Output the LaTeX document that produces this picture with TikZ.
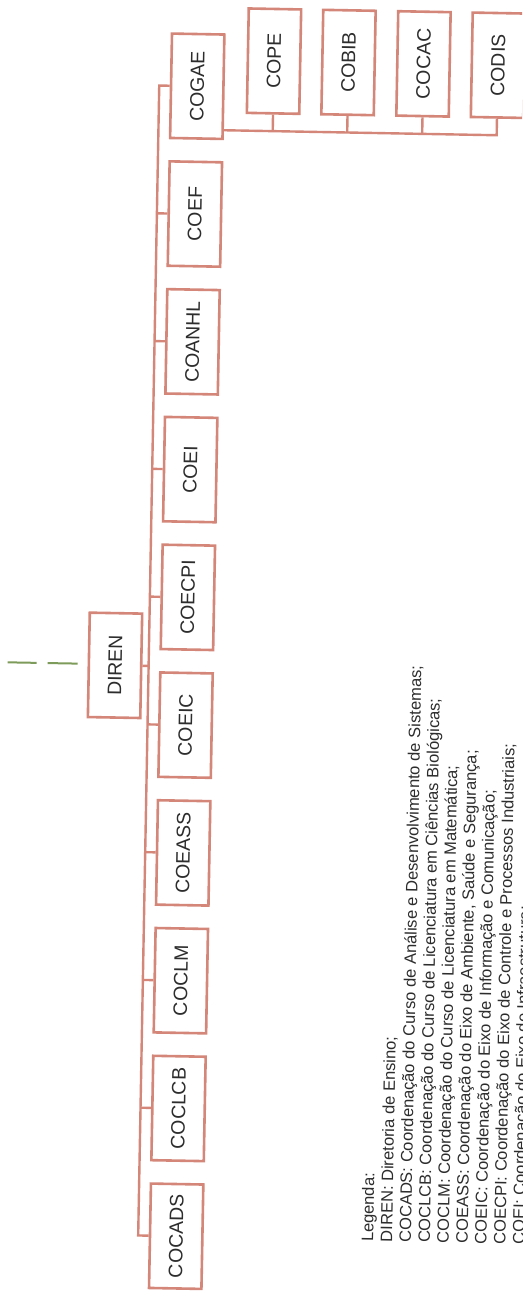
\documentclass[tikz,border=0pt]{standalone}
\usepackage{fontspec}
\setmainfont{Liberation Sans}
\definecolor{boxc}{RGB}{212,135,120}
\definecolor{txtc}{RGB}{45,45,45}
\definecolor{dashc}{RGB}{125,155,90}
\begin{document}
\begin{tikzpicture}[x=1pt,y=-1pt,
  unit/.style={draw=boxc, line width=2.6pt, fill=white, rotate=90, transform shape,
    minimum width=104.4pt, minimum height=52.4pt, inner sep=0pt, text=txtc,
    font=\fontsize{19.5}{23}\selectfont},
  conn/.style={draw=boxc, line width=2.4pt, line join=miter},
  legend/.style={rotate=90, transform shape, anchor=base west, inner sep=0pt,
    text=txtc, font=\fontsize{16.5}{18.9}\selectfont},
  dashline/.style={draw=dashc, line width=2pt}]
\useasboundingbox (0,0) rectangle (522,1292);
\fill[white] (0,0) rectangle (522,1292);
\clip (0,0) rectangle (522,1292);
\begin{scope}[rotate around={-1.05:(261,646)}]
% main column
\node[unit] (COGAE)  at (187,87.5)   {COGAE};
\node[unit] (COEF)   at (187,215.3)  {COEF};
\node[unit] (COANHL) at (187,343.1)  {COANHL};
\node[unit] (COEI)   at (187,470.9)  {COEI};
\node[unit] (COECPI) at (187,598.7)  {COECPI};
\node[unit] (COEIC)  at (187,726.5)  {COEIC};
\node[unit] (COEASS) at (187,854.3)  {COEASS};
\node[unit] (COCLM)  at (187,982.1)  {COCLM};
\node[unit] (COCLCB) at (187,1109.9) {COCLCB};
\node[unit] (COCADS) at (187,1237.7) {COCADS};
% director
\node[unit] (DIREN)  at (115.4,668)  {DIREN};
% sub units of COGAE
\node[unit] (COPE)   at (263.3,61) {COPE};
\node[unit] (COBIB)  at (337.8,61) {COBIB};
\node[unit] (COCAC)  at (412.8,61) {COCAC};
\node[unit] (CODIS)  at (487.3,61) {CODIS};
% trunk
\coordinate (tTop) at (149,87.5);
\coordinate (tBot) at (149,1237.7);
\draw[conn] (COGAE.north) -- (tTop) -- (tBot) -- (COCADS.north);
\coordinate (jCOEF)   at (149,215.3);
\coordinate (jCOANHL) at (149,343.1);
\coordinate (jCOEI)   at (149,470.9);
\coordinate (jCOECPI) at (149,598.7);
\coordinate (jCOEIC)  at (149,726.5);
\coordinate (jCOEASS) at (149,854.3);
\coordinate (jCOCLM)  at (149,982.1);
\coordinate (jCOCLCB) at (149,1109.9);
\coordinate (jDIREN)  at (149,668);
\draw[conn] (COEF.north) -- (jCOEF);
\draw[conn] (COANHL.north) -- (jCOANHL);
\draw[conn] (COEI.north) -- (jCOEI);
\draw[conn] (COECPI.north) -- (jCOECPI);
\draw[conn] (COEIC.north) -- (jCOEIC);
\draw[conn] (COEASS.north) -- (jCOEASS);
\draw[conn] (COCLM.north) -- (jCOCLM);
\draw[conn] (COCLCB.north) -- (jCOCLCB);
\draw[conn] (DIREN.south) -- (jDIREN);
% bus of COGAE
\coordinate (busL) at (213.2,131);
\coordinate (busR) at (487.3,131);
\coordinate (bCOPE)  at (263.3,131);
\coordinate (bCOBIB) at (337.8,131);
\coordinate (bCOCAC) at (412.8,131);
\draw[conn] (busL) -- (busR) -- (CODIS.west);
\draw[conn] (COPE.west) -- (bCOPE);
\draw[conn] (COBIB.west) -- (bCOBIB);
\draw[conn] (COCAC.west) -- (bCOCAC);
% green dashes
\coordinate (g1a) at (8,667);  \coordinate (g1b) at (37,667);
\coordinate (g2a) at (48,667); \coordinate (g2b) at (78,667);
\draw[dashline] (g1a) -- (g1b);
\draw[dashline] (g2a) -- (g2b);
% legend
\node[legend] (L0) at (384,1240)   {Legenda:};
\node[legend] (L1) at (402.9,1240) {DIREN: Diretoria de Ensino;};
\node[legend] (L2) at (421.8,1240) {COCADS: Coordenação do Curso de Análise e Desenvolvimento de Sistemas;};
\node[legend] (L3) at (440.7,1240) {COCLCB: Coordenação do Curso de Licenciatura em Ciências Biológicas;};
\node[legend] (L4) at (459.6,1240) {COCLM: Coordenação do Curso de Licenciatura em Matemática;};
\node[legend] (L5) at (478.5,1240) {COEASS: Coordenação do Eixo de Ambiente, Saúde e Segurança;};
\node[legend] (L6) at (497.4,1240) {COEIC: Coordenação do Eixo de Informação e Comunicação;};
\node[legend] (L7) at (516.3,1240) {COECPI: Coordenação do Eixo de Controle e Processos Industriais;};
\node[legend] (L8) at (535.2,1240) {COEI: Coordenação do Eixo de Infraestrutura;};
\end{scope}
\end{tikzpicture}
\end{document}
